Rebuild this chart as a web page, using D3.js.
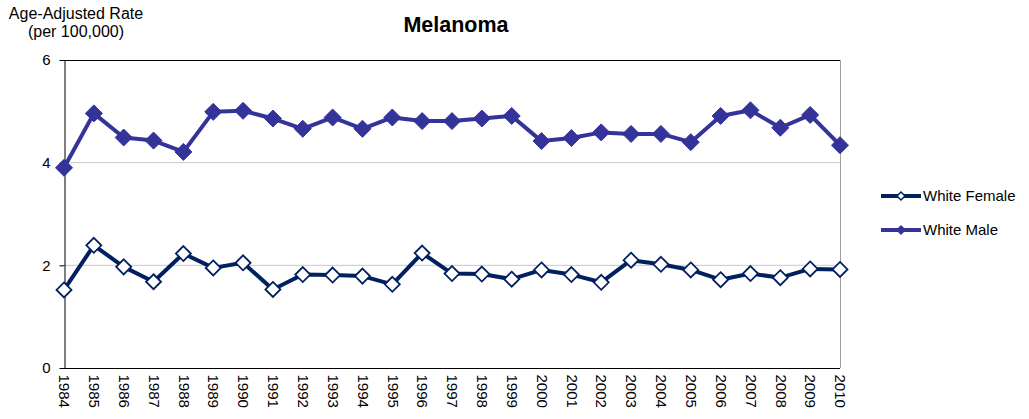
<!DOCTYPE html>
<html><head><meta charset="utf-8">
<script src="https://cdn.jsdelivr.net/npm/d3@7"></script>
<style>body{margin:0;background:#fff;font-family:"Liberation Sans",Arial,sans-serif;}</style>
</head><body><svg id="c" width="1029" height="419"></svg>
<script>
const years = [1984,1985,1986,1987,1988,1989,1990,1991,1992,1993,1994,1995,1996,1997,1998,1999,2000,2001,2002,2003,2004,2005,2006,2007,2008,2009,2010];
const whiteFemale = [1.52,2.39,1.97,1.68,2.23,1.95,2.05,1.53,1.82,1.81,1.79,1.63,2.24,1.84,1.83,1.73,1.91,1.82,1.67,2.10,2.02,1.91,1.72,1.84,1.76,1.93,1.92];
const whiteMale = [3.90,4.96,4.49,4.43,4.21,4.99,5.01,4.86,4.66,4.88,4.66,4.88,4.81,4.81,4.86,4.91,4.42,4.48,4.59,4.56,4.56,4.40,4.91,5.02,4.68,4.93,4.34];
const yTicks = [0,2,4,6];
const seriesNames = ["White Female","White Male"];

const svg = d3.select("#c");
const L=64,R=840,T=60,B=368;
const x = d3.scalePoint().domain(years).range([L,R]);
const y = d3.scaleLinear().domain([0,6]).range([B,T]);
const font = '"Liberation Sans",Arial,sans-serif';

// gridlines
svg.append("g").selectAll("line").data(yTicks.filter(d=>d>0&&d<6)).join("line")
  .attr("x1",L).attr("x2",R).attr("y1",d=>y(d)).attr("y2",d=>y(d))
  .attr("stroke","#c8c8c8").attr("stroke-width",1);
// frame
svg.append("line").attr("x1",L).attr("x2",R).attr("y1",T+0.5).attr("y2",T+0.5).attr("stroke","#000");
svg.append("line").attr("x1",R+0.5).attr("x2",R+0.5).attr("y1",T).attr("y2",B).attr("stroke","#a0a0a0");

// y axis
const ya = svg.append("g").attr("transform",`translate(${L+0.5},0)`)
  .call(d3.axisLeft(y).tickValues(yTicks).tickSize(5).tickSizeOuter(0).tickPadding(9).tickFormat(d3.format("d")));
ya.select(".domain").attr("stroke","#000");
ya.selectAll("text").attr("font-family",font).attr("font-size",15).attr("fill","#000");
ya.selectAll("line").attr("stroke","#000");

// x axis
const xa = svg.append("g").attr("transform",`translate(0,${B+0.5})`)
  .call(d3.axisBottom(x).tickSize(0).tickSizeOuter(0).tickPadding(0));
xa.select(".domain").attr("stroke","#000").attr("d",`M${L},0H${R}`);
xa.selectAll("text").attr("font-family",font).attr("font-size",15).attr("fill","#000")
  .attr("text-anchor","start").attr("dy","0.35em")
  .attr("transform","translate(0,6) rotate(90)");

const cols = ["#002060","#333399"];
const data = [whiteFemale, whiteMale];
const line = d3.line().x((d,i)=>x(years[i])).y(d=>y(d));
const diamond = s => `M0,${-s}L${s},0L0,${s}L${-s},0Z`;

data.forEach((vals,k)=>{
  svg.append("path").datum(vals).attr("d",line).attr("fill","none")
    .attr("stroke",cols[k]).attr("stroke-width",4).attr("stroke-linejoin","round");
  svg.append("g").selectAll("path").data(vals).join("path")
    .attr("transform",(d,i)=>`translate(${x(years[i])},${y(d)})`)
    .attr("d", k===0 ? diamond(7.5) : diamond(8.5))
    .attr("fill", k===0 ? "#fff" : cols[k])
    .attr("stroke", cols[k]).attr("stroke-width", k===0?1.8:1);
});

// legend
const ly=[196,230];
seriesNames.forEach((n,k)=>{
  svg.append("line").attr("x1",881).attr("x2",921).attr("y1",ly[k]).attr("y2",ly[k]).attr("stroke",cols[k]).attr("stroke-width",4);
  svg.append("path").attr("transform",`translate(901,${ly[k]})`).attr("d",diamond(4))
    .attr("fill",k===0?"#fff":cols[k]).attr("stroke",cols[k]).attr("stroke-width",1.5);
  svg.append("text").attr("x",923).attr("y",ly[k]).attr("dy","0.35em").attr("font-family",font).attr("font-size",15).text(n);
});

// titles
svg.append("text").attr("x",456).attr("y",32).attr("text-anchor","middle").attr("font-family",font)
  .attr("font-weight","bold").attr("font-size",21.5).text("Melanoma");
svg.append("text").attr("x",76).attr("y",19).attr("text-anchor","middle").attr("font-family",font).attr("font-size",16).text("Age-Adjusted Rate");
svg.append("text").attr("x",76).attr("y",37).attr("text-anchor","middle").attr("font-family",font).attr("font-size",16).text("(per 100,000)");
</script></body></html>
